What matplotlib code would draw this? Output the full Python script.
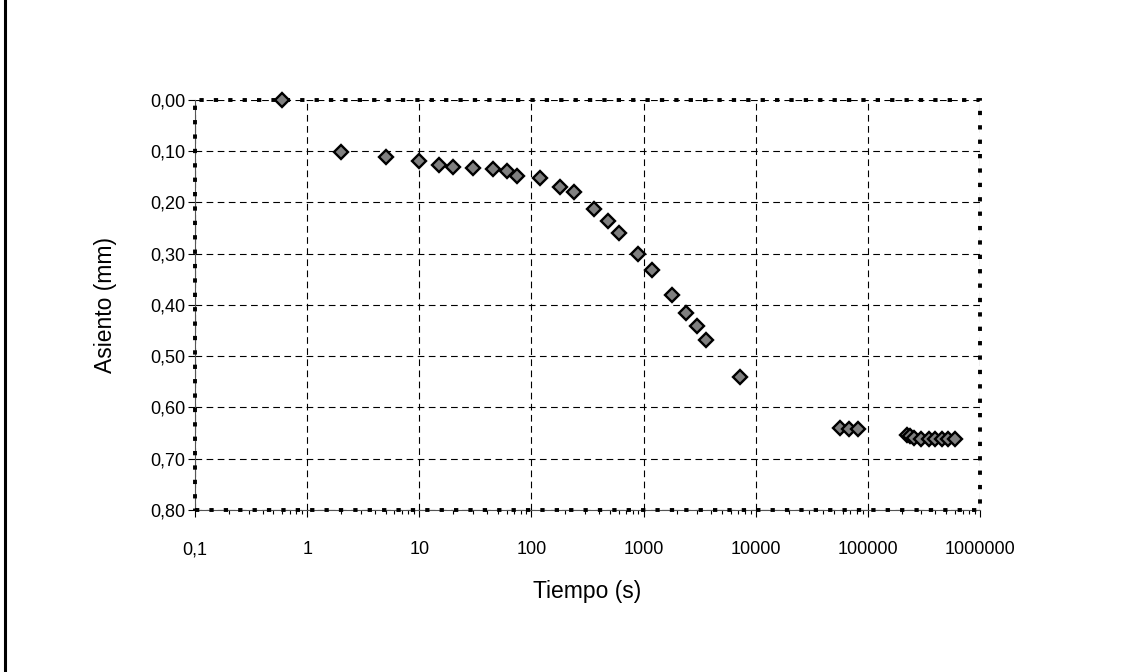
import matplotlib
matplotlib.use("Agg")
import matplotlib.pyplot as plt
from matplotlib.lines import Line2D
from matplotlib.patches import Rectangle
from matplotlib.ticker import FixedLocator, FuncFormatter, LogLocator, NullFormatter

plt.rcParams["font.family"] = ["Liberation Sans", "DejaVu Sans"]

# tiempo (s) / asiento (mm)
tiempo = [0.6, 2, 5, 10, 15, 20, 30, 45, 60, 75, 120, 180, 240,
          360, 480, 600, 900, 1200, 1800, 2400, 3000, 3600, 7200,
          56000, 68000, 82000,
          225000, 240000, 260000, 300000, 350000, 400000, 460000, 520000, 600000]
asiento = [0.00, 0.102, 0.111, 0.12, 0.126, 0.13, 0.132, 0.134, 0.139, 0.148, 0.153, 0.170, 0.180,
           0.212, 0.237, 0.259, 0.301, 0.331, 0.380, 0.415, 0.441, 0.469, 0.540,
           0.641, 0.642, 0.642,
           0.654, 0.655, 0.660, 0.661, 0.661, 0.661, 0.661, 0.661, 0.661]

x_ticks = [0.1, 1, 10, 100, 1000, 10000, 100000, 1000000]
x_labels = ["0,1", "1", "10", "100", "1000", "10000", "100000", "1000000"]
y_ticks = [0.0, 0.1, 0.2, 0.3, 0.4, 0.5, 0.6, 0.7, 0.8]

fig = plt.figure(figsize=(11.32, 6.72), dpi=100)
ax = fig.add_axes([0.1723, 0.2411, 0.6934, 0.6101])

ax.plot(tiempo, asiento, linestyle="none", marker="D", markersize=7.5,
        markerfacecolor="#808080", markeredgecolor="black", markeredgewidth=1.7,
        zorder=5, clip_on=False)

ax.set_xscale("log")
ax.set_xlim(0.1, 1000000)
ax.set_ylim(0.8, 0.0)

ax.xaxis.set_major_locator(FixedLocator(x_ticks))
ax.xaxis.set_major_formatter(FuncFormatter(lambda v, p: x_labels[x_ticks.index(v)] if v in x_ticks else ""))
ax.xaxis.set_minor_locator(LogLocator(base=10, subs=range(2, 10), numticks=20))
ax.xaxis.set_minor_formatter(NullFormatter())
ax.yaxis.set_major_locator(FixedLocator(y_ticks))
ax.yaxis.set_major_formatter(FuncFormatter(lambda v, p: f"{v:.2f}".replace(".", ",")))

ax.tick_params(axis="both", which="major", direction="out", length=5, width=0.8,
               labelsize=13, colors="black")
ax.tick_params(axis="x", which="minor", direction="out", length=3, width=0.8)
ax.tick_params(axis="x", which="major", pad=17.5)
ax.tick_params(axis="y", which="major", pad=2)

ax.grid(True, which="major", color="black", linestyle=(0, (6, 4)), linewidth=0.8)

for side in ["top", "right"]:
    ax.spines[side].set_visible(False)
for side in ["left", "bottom"]:
    ax.spines[side].set_color("#555555")
    ax.spines[side].set_linewidth(0.8)

# dotted plot-area frame
ax.add_patch(Rectangle((0, 0), 1, 1, transform=ax.transAxes, fill=False,
                       edgecolor="black", linewidth=2.8, linestyle=(0, (1.1, 2.6)),
                       clip_on=False, zorder=4))

ax.set_xlabel("Tiempo (s)", fontsize=16.5, labelpad=16)
ax.set_ylabel("Asiento (mm)", fontsize=16.5, labelpad=24)

# left border of the chart box
fig.add_artist(Line2D([0.0045, 0.0045], [0, 1], color="black", linewidth=2.2))

fig.savefig("out.png", dpi=100)
